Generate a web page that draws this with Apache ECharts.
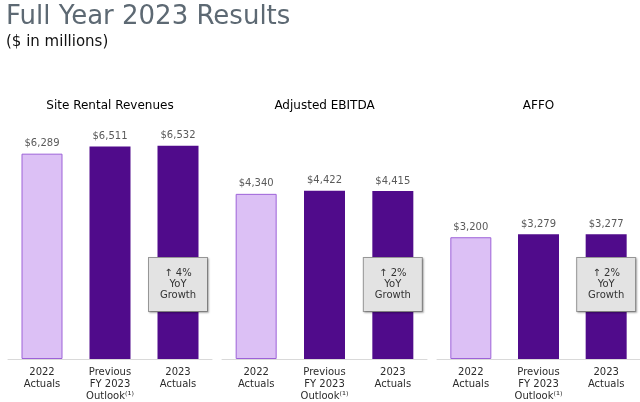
<!DOCTYPE html>
<html>
<head>
<meta charset="utf-8">
<script src="https://cdn.jsdelivr.net/npm/echarts@6/dist/echarts.min.js"></script>
<style>
  html, body { margin: 0; padding: 0; background: #fff; }
  #chart { width: 640px; height: 402px; }
</style>
</head>
<body>
<div id="chart"></div>
<script>
const categories = ['2022\nActuals', 'Previous\nFY 2023\nOutlook⁽¹⁾', '2023\nActuals']
const panelTitles = ['Site Rental Revenues', 'Adjusted EBITDA', 'AFFO']
const siteRental = [6289, 6511, 6532]
const adjEbitda = [4340, 4422, 4415]
const affo = [3200, 3279, 3277]
const yoyGrowth = ['4%', '2%', '2%']

const panels = [siteRental, adjEbitda, affo]
const axisMax = [7320, 6281, 6281]
const gridLeft = [8, 222, 437]
const gridWidth = [204, 205, 203]

const FONT = 'DejaVu Sans'
const LIGHT = '#dcc0f5'
const DARK = '#500b8b'

const fmt = v => '$' + v.toLocaleString('en-US')

const grids = [], xAxes = [], yAxes = [], series = [], graphics = []

panels.forEach((vals, i) => {
  grids.push({ left: gridLeft[i], width: gridWidth[i], top: 120, bottom: 43 })
  xAxes.push({
    type: 'category',
    gridIndex: i,
    data: categories,
    axisTick: { show: false },
    axisLine: { lineStyle: { color: '#d9d9d9', width: 1 } },
    axisLabel: { color: '#2b2b2b', fontFamily: FONT, fontSize: 10, lineHeight: 12, margin: 7, interval: 0 }
  })
  yAxes.push({ type: 'value', gridIndex: i, min: 0, max: axisMax[i], show: false, splitLine: { show: false } })

  series.push({
    type: 'bar',
    xAxisIndex: i,
    yAxisIndex: i,
    barWidth: 41,
    barGap: '-100%',
    data: vals.map((v, j) => ({
      value: v,
      itemStyle: j === 0
        ? { color: LIGHT, borderColor: '#9d62d8', borderWidth: 1 }
        : { color: DARK }
    })),
    label: {
      show: true,
      position: 'top',
      distance: 5,
      color: '#5a5a5a',
      fontFamily: FONT,
      fontSize: 10,
      formatter: p => fmt(p.value)
    }
  })

  // growth callout sits on the 2023 bar
  series.push({
    type: 'bar',
    xAxisIndex: i,
    yAxisIndex: i,
    barWidth: 41,
    barGap: '-100%',
    z: 5,
    itemStyle: { color: 'transparent' },
    data: vals.map((v, j) => (j === 2 ? v : '-')),
    label: {
      show: true,
      position: 'insideBottom',
      distance: 48,
      formatter: () => '↑ ' + yoyGrowth[i] + '\nYoY\nGrowth',
      color: '#333',
      fontFamily: FONT,
      fontSize: 10,
      lineHeight: 11,
      align: 'center',
      width: 56,
      padding: [10, 1, 10, 1],
      backgroundColor: '#e3e3e3',
      borderColor: '#999',
      borderWidth: 1,
      shadowColor: 'rgba(0,0,0,0.25)',
      shadowBlur: 2,
      shadowOffsetX: 1,
      shadowOffsetY: 1
    }
  })

  graphics.push({
    type: 'text',
    x: gridLeft[i] + gridWidth[i] / 2,
    y: 106,
    style: {
      text: panelTitles[i],
      fill: '#000',
      font: '12px "' + FONT + '"',
      textAlign: 'center',
      textVerticalAlign: 'middle'
    }
  })
})

graphics.push({
  type: 'text', x: 6, y: 17,
  style: { text: 'Full Year 2023 Results', fill: '#5d6973', font: '26px "' + FONT + '"', textVerticalAlign: 'middle' }
})
graphics.push({
  type: 'text', x: 6, y: 42,
  style: { text: '($ in millions)', fill: '#111', font: '15px "' + FONT + '"', textVerticalAlign: 'middle' }
})

const chart = echarts.init(document.getElementById('chart'))
chart.setOption({
  animation: false,
  backgroundColor: '#fff',
  grid: grids,
  xAxis: xAxes,
  yAxis: yAxes,
  series: series,
  graphic: graphics
})
</script>
</body>
</html>
